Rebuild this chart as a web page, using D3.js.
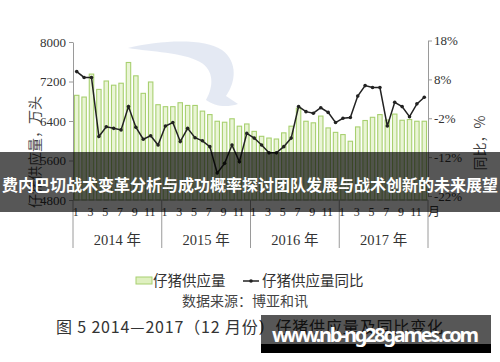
<!DOCTYPE html>
<html>
<head>
<meta charset="utf-8">
<script src="https://cdn.jsdelivr.net/npm/d3@7/dist/d3.min.js"></script>
<style>
  html, body { margin: 0; padding: 0; background: #fff; }
  svg { display: block; }
  .axis path, .axis line { stroke: #9a9a9a; }
  .axis text { font-family: "Liberation Serif", "DejaVu Serif", serif; font-size: 13px; fill: #333; }
</style>
</head>
<body>
<svg id="chart" width="500" height="362"></svg>
<script>
// 仔猪供应量 (万头), 2014.1 - 2017.12
const supply = [
    6920, 6885, 7350, 7040, 7210, 7125, 7165, 7585, 7315, 6960, 7190, 6730,
    6690, 6690, 6770, 6715, 6715, 6600, 6530, 6395, 6375, 6445, 6295, 6340,
    6190, 6090, 6055, 6035, 6160, 6295, 6660, 6395, 6363, 6500, 6260, 6170,
    6125, 5990, 6280, 6410, 6475, 6530, 6420, 6540, 6415, 6430, 6395, 6395
];
// 仔猪供应量同比 (%)
const yoy = [
    10.0, 8.5, 8.5, -6.7, -4.2, -4.6, -5.0, 1.0, -4.3, -7.4, -6.5, -8.9,
    -4.0, -3.1, -8.0, -4.6, -7.0, -7.8, -9.3, -16.1, -13.6, -8.9, -13.2, -5.9,
    -7.1, -8.9, -10.9, -10.9, -9.3, -7.1, 1.0, -0.3, -0.7, 0.7, -0.5, -3.1,
    -2.0, -1.8, 3.7, 6.4, 5.9, 5.9, -4.0, 2.1, 1.0, -1.6, 1.7, 3.4
];
const years = ["2014 年", "2015 年", "2016 年", "2017 年"];
const monthTicks = [1, 3, 5, 7, 9, 11];
const leftTicks = [4800, 5600, 6400, 7200, 8000];
const rightTicks = [-22, -12, -2, 8, 18];

const svg = d3.select("#chart");

const PLOT = { left: 73, right: 428, top: 42, bottom: 200 };

const x = d3.scaleBand()
    .domain(d3.range(supply.length))
    .range([PLOT.left, PLOT.right])
    .paddingInner(0.4)
    .paddingOuter(0.2);
const xYear = d3.scaleLinear().domain([0, years.length]).range([PLOT.left, PLOT.right]);
const yLeft = d3.scaleLinear().domain([4800, 8000]).range([PLOT.bottom, PLOT.top]);
const yRight = d3.scaleLinear().domain([-22, 18]).range([196, 40.5]);
const cx = i => x(i) + x.bandwidth() / 2;

// faint background logo
svg.append("path")
    .attr("d", "M128,48 C160,40 205,38 222,50 C238,62 236,82 226,96 L238,104 C226,108 214,106 206,100 C214,86 214,70 200,62 C182,52 152,52 128,48 Z")
    .attr("fill", "#d9e0ee")
    .attr("opacity", 0.7);

// bars
svg.append("g")
    .selectAll("rect")
    .data(supply)
    .join("rect")
    .attr("x", (d, i) => x(i))
    .attr("y", d => yLeft(d))
    .attr("width", x.bandwidth())
    .attr("height", d => yLeft(4800) - yLeft(d))
    .attr("fill", "#eaf5d6")
    .attr("stroke", "#a8d070")
    .attr("stroke-width", 1.1);

// line
svg.append("path")
    .datum(yoy)
    .attr("fill", "none")
    .attr("stroke", "#222")
    .attr("stroke-width", 1.5)
    .attr("d", d3.line().x((d, i) => cx(i)).y(d => yRight(d)));

svg.append("g")
    .selectAll("circle")
    .data(yoy)
    .join("circle")
    .attr("cx", (d, i) => cx(i))
    .attr("cy", d => yRight(d))
    .attr("r", 1.8)
    .attr("fill", "#222");

// axes
svg.append("g")
    .attr("class", "axis")
    .attr("transform", `translate(${ PLOT.left }, 0)`)
    .call(d3.axisLeft(yLeft).tickValues(leftTicks).tickFormat(d3.format("d")).tickSize(4).tickSizeOuter(0).tickPadding(3));

svg.append("g")
    .attr("class", "axis")
    .attr("transform", `translate(${ PLOT.right }, 0)`)
    .call(d3.axisRight(yRight).tickValues(rightTicks).tickFormat(d => d + "%").tickSize(4).tickSizeOuter(0).tickPadding(2));

svg.append("line")
    .attr("x1", PLOT.left).attr("x2", PLOT.right)
    .attr("y1", PLOT.bottom).attr("y2", PLOT.bottom)
    .attr("stroke", "#9a9a9a");

// month / year category axis
const cat = svg.append("g")
    .attr("font-family", "'Liberation Serif', 'Noto Sans CJK SC', serif")
    .attr("fill", "#333");

cat.selectAll("line.sep")
    .data(d3.range(years.length + 1))
    .join("line")
    .attr("class", "sep")
    .attr("x1", d => xYear(d)).attr("x2", d => xYear(d))
    .attr("y1", PLOT.bottom).attr("y2", 248)
    .attr("stroke", "#9a9a9a");

years.forEach((yr, k) => {
    cat.selectAll(null)
        .data(monthTicks)
        .join("text")
        .attr("x", m => cx(k * 12 + m - 1) - 1)
        .attr("y", 216)
        .attr("text-anchor", "middle")
        .attr("font-size", 12)
        .text(m => m);
});

cat.selectAll("text.year")
    .data(years)
    .join("text")
    .attr("class", "year")
    .attr("x", (d, k) => (xYear(k) + xYear(k + 1)) / 2)
    .attr("y", 245)
    .attr("text-anchor", "middle")
    .attr("font-size", 14.5)
    .text(d => d);

cat.append("text")
    .attr("x", 434).attr("y", 216)
    .attr("text-anchor", "middle")
    .attr("font-size", 12)
    .attr("font-family", "'Noto Sans CJK SC', sans-serif")
    .text("月");

// axis titles
svg.append("text")
    .attr("transform", "translate(34, 152) rotate(-90)")
    .attr("text-anchor", "middle")
    .attr("dominant-baseline", "central")
    .attr("font-family", "'Noto Sans CJK SC', sans-serif")
    .attr("font-size", 14)
    .attr("fill", "#444")
    .text("仔猪供应量，万头");

svg.append("text")
    .attr("transform", "translate(479, 143) rotate(-90)")
    .attr("text-anchor", "middle")
    .attr("dominant-baseline", "central")
    .attr("font-family", "'Noto Sans CJK SC', sans-serif")
    .attr("font-size", 14)
    .attr("fill", "#444")
    .text("同比，%");

// legend
const legend = svg.append("g")
    .attr("font-family", "'Noto Sans CJK SC', sans-serif")
    .attr("font-size", 14.5)
    .attr("fill", "#333");

legend.append("rect")
    .attr("x", 136).attr("y", 277).attr("width", 16).attr("height", 7)
    .attr("fill", "#dff0c0").attr("stroke", "#a8d070");
legend.append("text").attr("x", 153).attr("y", 286).text("仔猪供应量");

legend.append("line")
    .attr("x1", 243).attr("x2", 259).attr("y1", 281).attr("y2", 281)
    .attr("stroke", "#222").attr("stroke-width", 1.5);
legend.append("circle").attr("cx", 251).attr("cy", 281).attr("r", 1.8).attr("fill", "#222");
legend.append("text").attr("x", 262).attr("y", 286).text("仔猪供应量同比");

svg.append("text")
    .attr("x", 245).attr("y", 306)
    .attr("text-anchor", "middle")
    .attr("font-family", "'Noto Sans CJK SC', sans-serif")
    .attr("font-size", 14)
    .attr("fill", "#444")
    .text("数据来源：博亚和讯");

svg.append("text")
    .attr("x", 56).attr("y", 333)
    .attr("font-family", "'Noto Sans CJK SC', sans-serif")
    .attr("font-size", 16)
    .attr("fill", "#333")
    .attr("textLength", 387)
    .text("图 5  2014—2017（12 月份）仔猪供应量及同比变化");

// overlay banner
svg.append("rect")
    .attr("x", 0).attr("y", 152).attr("width", 500).attr("height", 60)
    .attr("fill", "rgba(0,0,0,0.66)");
svg.append("text")
    .attr("x", 250).attr("y", 184)
    .attr("text-anchor", "middle")
    .attr("dominant-baseline", "central")
    .attr("font-family", "'Noto Sans CJK SC', sans-serif")
    .attr("font-weight", "bold")
    .attr("font-size", 16)
    .attr("fill", "#fff")
    .attr("textLength", 496)
    .text("费内巴切战术变革分析与成功概率探讨团队发展与战术创新的未来展望");

// site watermark
svg.append("rect")
    .attr("x", 261).attr("y", 315).attr("width", 230).attr("height", 29)
    .attr("fill", "rgba(0,0,0,0.66)");
svg.append("rect")
    .attr("x", 261).attr("y", 344).attr("width", 230).attr("height", 9)
    .attr("fill", "#000");
svg.append("text")
    .attr("x", 272).attr("y", 342)
    .attr("font-family", "'Noto Sans', 'DejaVu Sans', sans-serif")
    .attr("font-weight", "bold")
    .attr("font-size", 20)
    .attr("fill", "#fff")
    .attr("textLength", 207)
    .text("www.nb-ng28games.com");
</script>
</body>
</html>
